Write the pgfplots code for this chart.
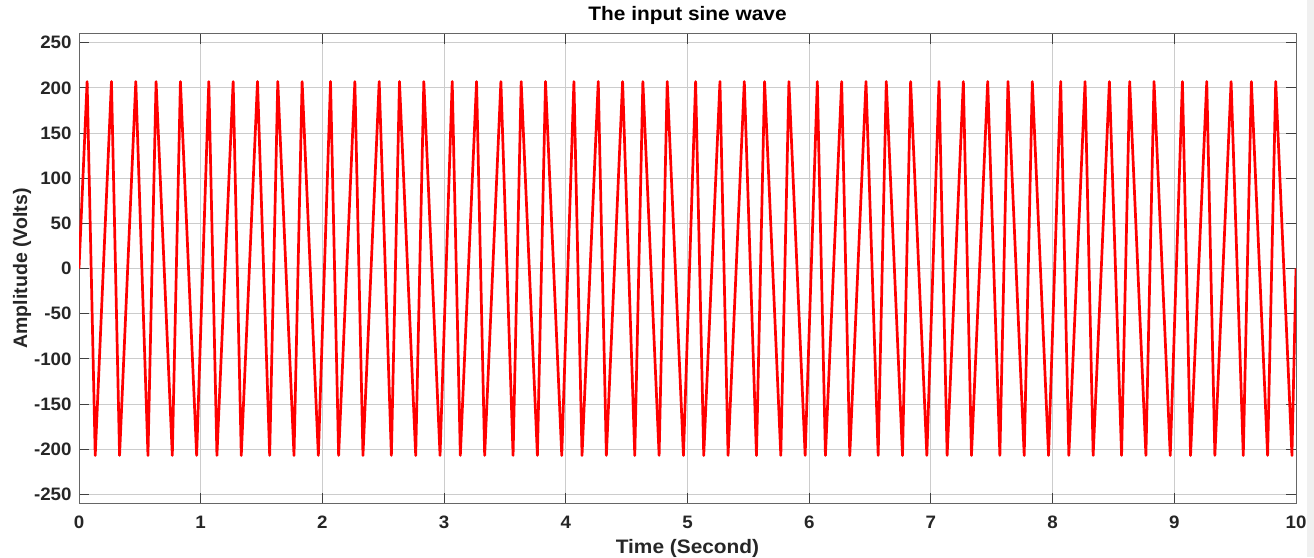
\documentclass[border=0pt]{standalone}
\usepackage{fontspec}
\setmainfont{Liberation Sans}
\usepackage{pgfplots}
\pgfplotsset{compat=1.18}
\begin{document}
\begin{tikzpicture}
\path[use as bounding box] (0,0) rectangle (1314pt,557pt);
\fill[black!6] (1307pt,0) rectangle (1314pt,557pt);
\begin{axis}[
  at={(79pt,53.7pt)}, anchor=south west,
  scale only axis, width=1217pt, height=469.6pt,
  xmin=0, xmax=10, ymin=-260, ymax=260,
  xtick={0,1,2,3,4,5,6,7,8,9,10},
  xticklabels={0,1,2,3,4,5,6,7,8,9,10},
  ytick={-250,-200,-150,-100,-50,0,50,100,150,200,250},
  yticklabels={-250,-200,-150,-100,-50,0,50,100,150,200,250},
  tick align=inside, xtick pos=both, ytick pos=both,
  major tick length=10pt,
  tick style={black!75, line width=0.9pt},
  grid=major,
  major grid style={black!20, line width=0.9pt},
  axis line style={black!60, line width=1pt},
  ticklabel style={font=\fontsize{18}{20}\selectfont\bfseries, text=black!85, xscale=1.04},
  xticklabel style={anchor=base, yshift=-25pt},
  yticklabel style={anchor=east, inner sep=0pt, xshift=-7pt},
  title={The input sine wave},
  title style={font=\fontsize{19.5}{22}\selectfont\bfseries, xscale=1.07, at={(axis description cs:0.5,1.0149)}, anchor=base},
  xlabel={Time (Second)},
  xlabel style={font=\fontsize{19.5}{22}\selectfont\bfseries, xscale=1.07, text=black!85, at={(axis description cs:0.5,-0.1065)}, anchor=base},
  ylabel={Amplitude (Volts)},
  ylabel style={font=\fontsize{19.5}{22}\selectfont\bfseries, text=black!85, at={(axis description cs:-0.0427,0.5)}, anchor=base},
]
\addplot[red, line width=2.7pt, line join=round] coordinates {
(0,0)
(0.0667,207) (0.1333,-207) (0.2667,207) (0.3333,-207) (0.4667,207) (0.5667,-207) (0.6333,207) (0.7667,-207) (0.8333,207) (0.9667,-207)
(1.0667,207) (1.1333,-207) (1.2667,207) (1.3333,-207) (1.4667,207) (1.5667,-207) (1.6333,207) (1.7667,-207) (1.8333,207) (1.9667,-207)
(2.0667,207) (2.1333,-207) (2.2667,207) (2.3333,-207) (2.4667,207) (2.5667,-207) (2.6333,207) (2.7667,-207) (2.8333,207) (2.9667,-207)
(3.0667,207) (3.1333,-207) (3.2667,207) (3.3333,-207) (3.4667,207) (3.5667,-207) (3.6333,207) (3.7667,-207) (3.8333,207) (3.9667,-207)
(4.0667,207) (4.1333,-207) (4.2667,207) (4.3333,-207) (4.4667,207) (4.5667,-207) (4.6333,207) (4.7667,-207) (4.8333,207) (4.9667,-207)
(5.0667,207) (5.1333,-207) (5.2667,207) (5.3333,-207) (5.4667,207) (5.5667,-207) (5.6333,207) (5.7667,-207) (5.8333,207) (5.9667,-207)
(6.0667,207) (6.1333,-207) (6.2667,207) (6.3333,-207) (6.4667,207) (6.5667,-207) (6.6333,207) (6.7667,-207) (6.8333,207) (6.9667,-207)
(7.0667,207) (7.1333,-207) (7.2667,207) (7.3333,-207) (7.4667,207) (7.5667,-207) (7.6333,207) (7.7667,-207) (7.8333,207) (7.9667,-207)
(8.0667,207) (8.1333,-207) (8.2667,207) (8.3333,-207) (8.4667,207) (8.5667,-207) (8.6333,207) (8.7667,-207) (8.8333,207) (8.9667,-207)
(9.0667,207) (9.1333,-207) (9.2667,207) (9.3333,-207) (9.4667,207) (9.5667,-207) (9.6333,207) (9.7667,-207) (9.8333,207) (9.9667,-207)
(10,0)
};
\end{axis}
\end{tikzpicture}
\end{document}
